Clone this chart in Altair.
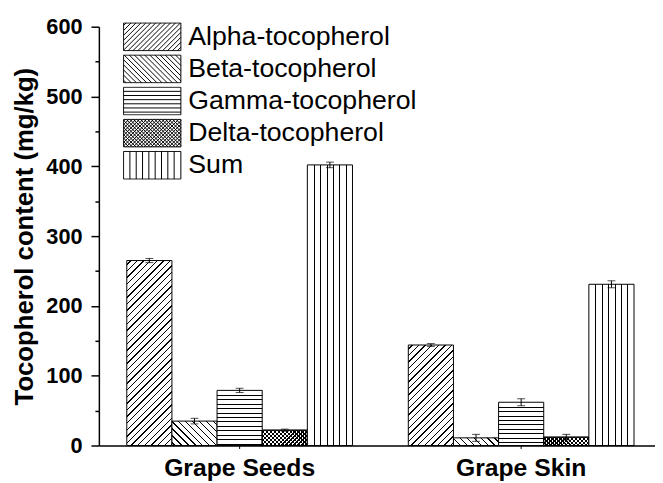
import math
import altair as alt
import pandas as pd

# ---------------- data ----------------
groups = ["Grape Seeds", "Grape Skin"]
series = ["Alpha-tocopherol", "Beta-tocopherol", "Gamma-tocopherol",
          "Delta-tocopherol", "Sum"]
seeds_values = [265, 35, 79, 22, 402]
seeds_errors = [3, 4, 3, 1.5, 4]
skin_values = [144, 11, 62, 12, 231]
skin_errors = [2, 5, 5, 4, 5]
y_major = [0, 100, 200, 300, 400, 500, 600]
y_all = [0, 50, 100, 150, 200, 250, 300, 350, 400, 450, 500, 550, 600]

values_by_group = {groups[0]: seeds_values, groups[1]: skin_values}
errors_by_group = {groups[0]: seeds_errors, groups[1]: skin_errors}

rows = []
for g in groups:
    for s, v, e in zip(series, values_by_group[g], errors_by_group[g]):
        rows.append(dict(group=g, series=s, value=v, err=e, lo=v - e, hi=v + e))
df = pd.DataFrame(rows)

# ---------------- layout ----------------
FONT = "Liberation Sans"
W, H = 563, 424
YMAX = 600
STEP = 285.0
BAND = 228.5
p_inner = 1 - BAND / STEP
p_outer = (W / STEP - 2 + p_inner) / 2
x_align = (142.5 - BAND / 2) / (W - STEP * (2 - p_inner))
bar_w = BAND / len(series)

WHITE = "white"
CLEAR = "rgba(255,255,255,0)"


def stripe_stops(period, line, phase, gap):
    st = [(0.0, gap)]
    k = 0
    while True:
        a = (k + phase) * period
        if a >= 1:
            break
        b = min(a + line, 1.0)
        st += [(a, gap), (a, "black"), (b, "black"), (b, gap)]
        k += 1
    st.append((1.0, gap))
    return [alt.GradientStop(offset=round(o, 5), color=c) for o, c in st]


def grad_diag(w, h, spacing, lw, kind, gap=WHITE):
    k = (w + h) / (w * w + h * h)
    a, b = w * k, h * k
    stops = stripe_stops(spacing / (w + h), lw * math.sqrt(2) / (w + h), 0.5, gap)
    if kind == "fwd":
        return alt.LinearGradient(gradient="linear", stops=stops,
                                  x1=0, y1=0, x2=round(a, 5), y2=round(b, 5))
    return alt.LinearGradient(gradient="linear", stops=stops,
                              x1=1, y1=0, x2=round(1 - a, 5), y2=round(b, 5))


def grad_horiz(w, h, spacing, lw):
    stops = stripe_stops(spacing / h, lw / h, 1.0, WHITE)
    return alt.LinearGradient(gradient="linear", stops=stops, x1=0, y1=0, x2=0, y2=1)


def grad_vert(w, h, spacing, lw):
    stops = stripe_stops(spacing / w, lw / w, 1.0, WHITE)
    return alt.LinearGradient(gradient="linear", stops=stops, x1=0, y1=0, x2=1, y2=0)


def fills_for(s, w, h):
    if s == series[0]:
        return [grad_diag(w, h, 6.7, 1.0, "fwd")]
    if s == series[1]:
        return [grad_diag(w, h, 7.0, 1.0, "back")]
    if s == series[2]:
        return [grad_horiz(w, h, 4.5, 1.0)]
    if s == series[3]:
        return [grad_diag(w, h, 4.0, 1.0, "fwd"),
                grad_diag(w, h, 4.0, 1.0, "back", gap=CLEAR)]
    return [grad_vert(w, h, 6.5, 1.0)]


# ---------------- legend symbol paths ----------------
HW, HH = 29.0, 14.0


def fmt(v):
    return f"{v / HW:.4f}".rstrip("0").rstrip(".") if v != 0 else "0"


def diag_segments(spacing, kind):
    segs = []
    c = -(HW + HH) + spacing / 2
    while c < HW + HH:
        xa = max(-HW, c - HH)
        xb = min(HW, c + HH)
        if xb - xa > 0.5:
            if kind == "fwd":
                segs.append((xa, c - xa, xb, c - xb))
            else:
                segs.append((xa, xa - c, xb, xb - c))
        c += spacing
    return segs


def legend_path(s):
    box = f"M-1,{fmt(-HH)}H1V{fmt(HH)}H-1Z"
    segs = []
    if s == series[0]:
        segs = diag_segments(5.0, "fwd")
    elif s == series[1]:
        segs = diag_segments(5.2, "back")
    elif s == series[2]:
        y = -HH + 4.2
        while y < HH - 1:
            segs.append((-HW, y, HW, y))
            y += 4.2
    elif s == series[3]:
        segs = diag_segments(3.6, "fwd") + diag_segments(3.6, "back")
    else:
        x = -HW + 6.4
        while x < HW - 1:
            segs.append((x, -HH, x, HH))
            x += 6.4
    body = "".join(f"M{fmt(a)},{fmt(b)}L{fmt(c)},{fmt(d)}" for a, b, c, d in segs)
    return box + body


legend_paths = [legend_path(s) for s in series]

# ---------------- encodings ----------------
x_scale = alt.Scale(domain=groups, paddingInner=p_inner, paddingOuter=p_outer,
                    align=x_align)
x_axis = alt.Axis(title=None, labelAngle=0, labelFont=FONT, labelFontSize=25,
                  labelFontWeight="bold", labelColor="black", labelPadding=7,
                  domainColor="black", domainWidth=1.5, tickColor="black",
                  tickSize=3, tickWidth=1, grid=False)
xo_scale = alt.Scale(domain=series, paddingInner=0, paddingOuter=0)
y_scale = alt.Scale(domain=[0, YMAX], nice=False, zero=True)
y_axis = alt.Axis(
    title="Tocopherol content (mg/kg)", values=y_all,
    labelExpr="datum.value % 100 === 0 ? datum.label : ''",
    tickSize={"condition": {"test": "datum.value % 100 === 0", "value": 8}, "value": 4},
    tickColor="black", tickWidth=1.5, domainColor="black", domainWidth=1.5,
    labelFont=FONT, labelFontSize=22, labelFontWeight="bold", labelColor="black",
    labelPadding=9, labelOverlap=False, grid=False,
    titleFont=FONT, titleFontSize=26, titleFontWeight="bold", titleColor="black",
    titleX=-67, titleBaseline="alphabetic")


def enc(chart, yfield="value"):
    return chart.encode(
        x=alt.X("group:N", scale=x_scale, axis=x_axis),
        xOffset=alt.XOffset("series:N", scale=xo_scale),
        y=alt.Y(f"{yfield}:Q", scale=y_scale, axis=y_axis),
    )


layers = []
for g in groups:
    for s, v in zip(series, values_by_group[g]):
        h = v * H / YMAX
        filt = (alt.datum.group == g) & (alt.datum.series == s)
        for f in fills_for(s, bar_w, h):
            layers.append(enc(alt.Chart(df).transform_filter(filt).mark_bar(
                fill=f, stroke="black", strokeWidth=1)))

# error bars
base = alt.Chart(df)
layers.append(enc(base.mark_rule(color="black", strokeWidth=1), "lo").encode(y2="hi:Q"))
layers.append(enc(base.mark_tick(color="black", orient="horizontal", size=8, thickness=1), "lo"))
layers.append(enc(base.mark_tick(color="black", orient="horizontal", size=8, thickness=1), "hi"))

# legend carrier (invisible points)
layers.append(enc(base.mark_point(opacity=0, color="black", strokeWidth=1)).encode(
    shape=alt.Shape("series:N", scale=alt.Scale(domain=series, range=legend_paths),
                    legend=alt.Legend(title=None, orient="none", legendX=24.5, legendY=-4.5,
                                      symbolSize=(2 * HW) ** 2, symbolStrokeWidth=1,
                                      symbolStrokeColor="black", symbolFillColor="white",
                                      symbolOpacity=1, labelFont=FONT, labelFontSize=27,
                                      labelColor="black", labelOffset=7, labelLimit=0,
                                      clipHeight=29.5, rowPadding=2.5, padding=0))))

chart = alt.layer(*layers).properties(
    width=W, height=H,
    autosize=alt.AutoSizeParams(type="none"),
    padding={"left": 92, "top": 16, "right": 0, "bottom": 35},
).configure_view(stroke=None)

chart.save("out.html", embed_options={"renderer": "svg", "actions": False})
